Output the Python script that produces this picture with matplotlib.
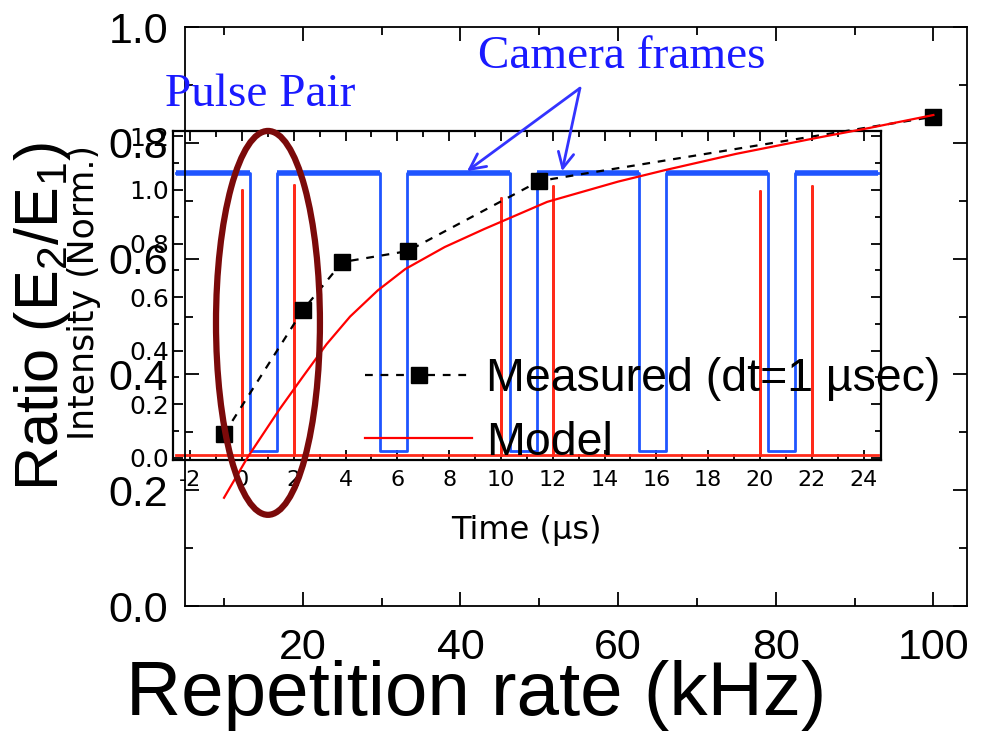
import numpy as np
import matplotlib
matplotlib.use("Agg")
import matplotlib.pyplot as plt
from matplotlib.ticker import MultipleLocator, FormatStrFormatter
from matplotlib.patches import Ellipse

plt.rcParams['font.family'] = ['Liberation Sans', 'DejaVu Sans']
plt.rcParams['axes.unicode_minus'] = False

# ratio of pulse energies vs repetition rate
rate_meas = [10, 20, 25, 33.3, 50, 100]
ratio_meas = [0.297, 0.511, 0.594, 0.613, 0.734, 0.845]

rate_model = [10, 13, 17, 20, 23, 26, 29.5, 33, 38, 43, 51, 60, 66, 75, 85, 92, 100]
ratio_model = [0.187, 0.257, 0.339, 0.396, 0.452, 0.500, 0.545, 0.582, 0.620,
               0.651, 0.698, 0.733, 0.753, 0.781, 0.808, 0.826, 0.848]

# inset: camera frame gate (blue) and laser pulses (red), time in us
gap_start = [0.33, 5.33, 10.35, 15.33, 20.30]
gap_end = [1.37, 6.37, 11.39, 16.37, 21.35]
frame_high = 1.065
frame_low = 0.025
pulse_t = [0.0, 2.0, 10.0, 12.0, 20.0, 22.0]
pulse_h = [1.0, 1.02, 0.97, 1.015, 0.995, 1.015]
pulse_base = 0.012
t_start, t_end = -2.55, 24.55

BLUE = '#1f55ff'
RED = '#ff2a1a'

fig = plt.figure(figsize=(9.82, 7.32), dpi=100)
ax = fig.add_axes([0.188, 0.1721, 0.797, 0.791])
ax_in = fig.add_axes([0.1762, 0.3716, 0.7206, 0.4494])
ax.set_zorder(2)
ax_in.set_zorder(1)
ax.patch.set_visible(False)

# ---- inset traces
bx = [t_start]
by = [frame_high]
for s, e in zip(gap_start, gap_end):
    bx += [s, s, e, e]
    by += [frame_high, frame_low, frame_low, frame_high]
bx.append(t_end)
by.append(frame_high)
ax_in.plot(bx, by, color=BLUE, lw=2.0)
# thicker high level (noisy in the raw trace)
edges = [t_start] + [v for pair in zip(gap_start, gap_end) for v in pair] + [t_end]
for a, b in zip(edges[0::2], edges[1::2]):
    ax_in.plot([a, b], [frame_high, frame_high], color=BLUE, lw=4, solid_capstyle='butt')

rx = [t_start]
ry = [pulse_base]
for t, h in zip(pulse_t, pulse_h):
    rx += [t, t, t]
    ry += [pulse_base, h, pulse_base]
rx.append(t_end)
ry.append(pulse_base)
ax_in.plot(rx, ry, color=RED, lw=2.0)

ax_in.set_xlim(-2.66, 24.66)
ax_in.set_ylim(-0.008, 1.22)
ax_in.xaxis.set_major_locator(MultipleLocator(2))
ax_in.xaxis.set_minor_locator(MultipleLocator(1))
ax_in.yaxis.set_major_locator(MultipleLocator(0.2))
ax_in.yaxis.set_minor_locator(MultipleLocator(0.1))
ax_in.tick_params(which='both', direction='in', top=True, right=True, width=1.3)
ax_in.tick_params(which='major', length=7)
ax_in.tick_params(which='minor', length=4)
ax_in.tick_params(axis='x', pad=7)
ax_in.tick_params(axis='y', pad=3)
for sp in ax_in.spines.values():
    sp.set_linewidth(1.6)
ax_in.set_xlabel('Time (\u00b5s)', fontsize=23, family='DejaVu Sans')
ax_in.xaxis.set_label_coords(0.5, -0.215)
ax_in.xaxis.label.set_va('center')
ax_in.set_ylabel('Intensity (Norm.)', fontsize=25,
                 family=['Liberation Sans Narrow', 'DejaVu Sans'])
ax_in.yaxis.set_label_coords(-0.126, 0.51)
ax_in.yaxis.label.set_va('center')

# ---- main chart
ax.plot(rate_meas, ratio_meas, color='black', ls='--', dashes=(3.5, 3.5), lw=1.6,
        marker='s', ms=12, label='Measured (dt=1 \u00b5sec)')
ax.plot(rate_model, ratio_model, color='#ff0000', lw=1.6, label='Model')

ax.set_xlim(5, 104.3)
ax.set_ylim(0, 1.0)
ax.xaxis.set_major_locator(MultipleLocator(20))
ax.xaxis.set_minor_locator(MultipleLocator(10))
ax.yaxis.set_major_locator(MultipleLocator(0.2))
ax.yaxis.set_minor_locator(MultipleLocator(0.1))
ax.yaxis.set_major_formatter(FormatStrFormatter('%.1f'))
ax.tick_params(which='both', direction='in', top=True, right=True, width=1.3)
ax.tick_params(which='major', length=10)
ax.tick_params(which='minor', length=6)
ax.tick_params(axis='x', labelsize=31, pad=16)
ax.tick_params(axis='y', labelsize=31, pad=12)
for sp in ax.spines.values():
    sp.set_linewidth(1.3)

ax.set_xlabel('Repetition rate (kHz)', fontsize=55)
ax.xaxis.set_label_coords(0.373, -0.154)
ax.xaxis.label.set_va('center')
ax.set_ylabel('Ratio (E$_\\mathregular{2}$/E$_\\mathregular{1}$)', fontsize=44)
ax.yaxis.set_label_coords(-0.182, 0.5)
ax.yaxis.label.set_va('center')

ax.legend(loc='upper left', bbox_to_anchor=(365 / 982, (732 - 357) / 732),
          bbox_transform=fig.transFigure, frameon=False, fontsize=33.5,
          handlelength=2.3, handletextpad=0.3, labelspacing=0.42,
          borderpad=0, borderaxespad=0)

# pulse pair marker
ax.add_patch(Ellipse((0.1065, 0.489), 0.1328, 0.663, transform=ax.transAxes,
                     fill=False, edgecolor='#7b0a0a', lw=4.5, zorder=5))

fig.text(165 / 982, 1 - 95 / 732, 'Pulse Pair', color='#1a1aff', fontsize=34,
         family='Liberation Serif', ha='left', va='center')
fig.text(478 / 982, 1 - 57 / 732, 'Camera frames', color='#1a1aff', fontsize=34,
         family='Liberation Serif', ha='left', va='center')
for tx in (8.69, 12.36):
    ax_in.annotate('', xy=(tx, 1.07), xytext=(13.05, 1.38),
                   arrowprops=dict(arrowstyle='->', color='#3333ff', lw=2,
                                   mutation_scale=28, shrinkA=0, shrinkB=0),
                   annotation_clip=False, zorder=6)

# inset tick label fonts
fig.canvas.draw()
plt.setp(ax_in.get_xticklabels(), fontsize=16, family='DejaVu Sans')
plt.setp(ax_in.get_yticklabels(), fontsize=18, family='DejaVu Sans')

fig.savefig('out.png', dpi=100)
